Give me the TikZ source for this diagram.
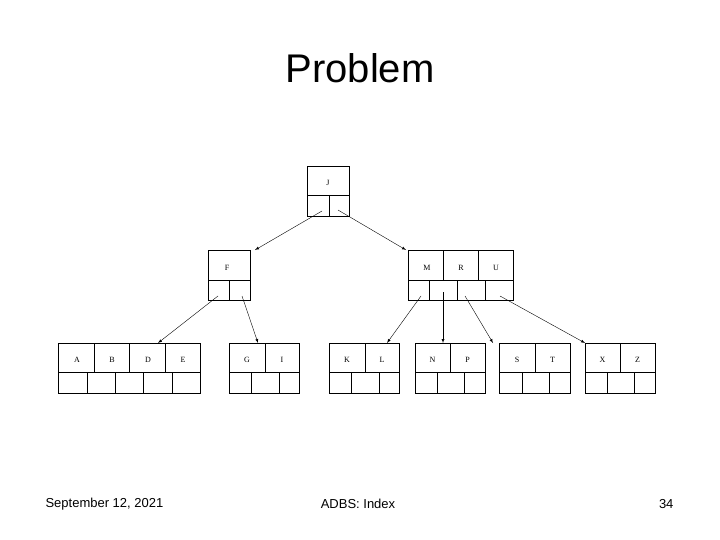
\documentclass[tikz,border=0pt]{standalone}
\usepackage{fontspec}
\setmainfont{Liberation Sans}
\newfontfamily\keyfont{Liberation Serif}
\begin{document}
\begin{tikzpicture}[x=1pt,y=-1pt,>=latex,
  key/.style={font=\keyfont\fontsize{8}{8}\selectfont},
  ptr/.style={->,thin}]
\useasboundingbox (0,0) rectangle (720,540);
\node at (360,68) {\fontsize{40}{40}\selectfont Problem};
\node[anchor=west] at (42,504) {\fontsize{13}{13}\selectfont September 12, 2021};
\node at (358,504) {\fontsize{13}{13}\selectfont ADBS: Index};
\node[anchor=east] at (677,504) {\fontsize{13}{13}\selectfont 34};
% J
\draw (307,166) rectangle (349,216) (307,195)--(349,195) (329,195)--(329,216);
\node[key] (j) at (328,183) {J};
% F
\draw (208,250) rectangle (250,300) (208,280)--(250,280) (229,280)--(229,300);
\node[key] (f) at (227,268) {F};
% M R U
\draw (408,250) rectangle (513,300) (408,280)--(513,280);
\foreach \x in {443,478} \draw (\x,250)--(\x,280);
\foreach \x in {429,457,485} \draw (\x,280)--(\x,300);
\node[key] (m) at (427,268) {M};
\node[key] (r) at (461,268) {R};
\node[key] (u) at (496,268) {U};
% leaves
\draw (58,343) rectangle (200,393) (58,372)--(200,372);
\foreach \x in {94,129,165} \draw (\x,343)--(\x,372);
\foreach \x in {87,115,143,172} \draw (\x,372)--(\x,393);
\foreach \l/\x in {A/77,B/112,D/148,E/183} \node[key] (\l) at (\x,360) {\l};
\foreach \a/\b/\c/\d/\e/\k/\l in {229/265/299/251/279/G/I,329/365/399/351/379/K/L,
  415/450/485/437/464/N/P,499/535/570/522/549/S/T,585/620/655/607/634/X/Z}{
  \draw (\a,343) rectangle (\c,393) (\a,372)--(\c,372) (\b,343)--(\b,372)
    (\d,372)--(\d,393) (\e,372)--(\e,393);
  \node[key] (\k) at ({(\a+\b)/2},360) {\k};
  \node[key] (\l) at ({(\b+\c)/2},360) {\l};
}
% pointers
\coordinate (j0) at (322,211); \coordinate (j1) at (338,210);
\coordinate (f0) at (218,296); \coordinate (f1) at (242,296);
\coordinate (m0) at (421,296); \coordinate (m1) at (443,292);
\coordinate (m2) at (465,296); \coordinate (m3) at (500,296);
\draw[ptr] (j0) -- (255,250);
\draw[ptr] (j1) -- (406,250);
\draw[ptr] (f0) -- (158,343);
\draw[ptr] (f1) -- (258,343);
\draw[ptr] (m0) -- (387,343);
\draw[ptr] (m1) -- (443,343);
\draw[ptr] (m2) -- (493,343);
\draw[ptr] (m3) -- (585,343);
\end{tikzpicture}
\end{document}
